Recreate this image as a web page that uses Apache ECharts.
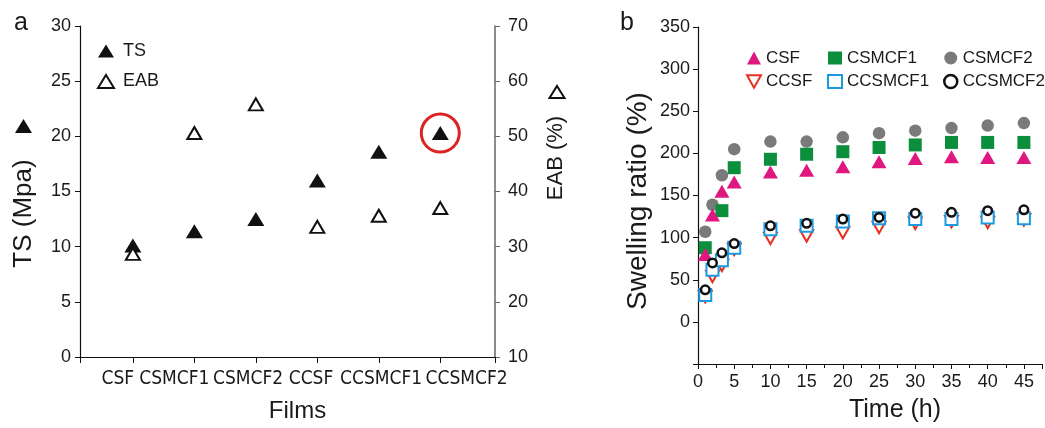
<!DOCTYPE html>
<html><head><meta charset="utf-8">
<script src="https://cdn.jsdelivr.net/npm/echarts@6/dist/echarts.min.js"></script>
<style>
html,body{margin:0;padding:0;background:#fff;width:1045px;height:428px;overflow:hidden}
#right{position:absolute;left:0;top:0;width:1045px;height:428px}
#left{position:absolute;left:0;top:0;width:600px;height:428px}
</style></head><body>
<div id="right"></div>
<div id="left"></div>
<script>
// ---- Panel a data ----
const films = ['CSF', 'CSMCF1', 'CSMCF2', 'CCSF', 'CCSMCF1', 'CCSMCF2'];
const tsValues = [10.1, 11.4, 12.5, 16.0, 18.6, 20.3];
const eabValues = [28.7, 50.6, 55.8, 33.6, 35.6, 37.0];
// ---- Panel b data ----
const times = [1, 2, 3.3, 5, 10, 15, 20, 25, 30, 35, 40, 45];
const csf     = [80, 127, 155, 166, 178, 180, 184, 190, 194, 196, 195, 195];
const csmcf1  = [88, null, 132, 183, 193, 199, 202, 207, 210, 213, 213, 213];
const csmcf2  = [107, 139, 174, 205, 214, 214, 219, 224, 227, 230, 233, 236];
const ccsf    = [30, 54, 67, 86, 99, 102, 106, 112, 117, 119, 118, 121];
const ccsmcf1 = [32, 62, 73, 88, 110, 114, 119, 123, 122, 122, 124, 123];
const ccsmcf2 = [38, 70, 82, 93, 114, 117, 122, 124, 129, 130, 132, 133];
const yTicksA = [0, 30, 5];
const yTicksB = [10, 70, 10];

const FONT = "'Liberation Sans', Arial, sans-serif";
const NARROW = "'Liberation Sans Narrow', 'Arial Narrow', 'DejaVu Sans Condensed', sans-serif";
const INK = '#1a1a1a';

// ---------- Panel a ----------
const xMin = 0.14, xMax = 6.89;
const labelShift = [-15, -20, -7.7, -6.3, 2.3, 26.3];
const rich = {};
labelShift.forEach((d, i) => {
  rich['s' + i] = {fontFamily: NARROW, fontSize: 19, color: INK,
    padding: d < 0 ? [0, -2 * d, 0, 0] : [0, 0, 0, 2 * d]};
});
const pos = films.map((_, i) => i + 1);
const openTri = {color: '#fff', borderColor: '#111', borderWidth: 2};

const left = echarts.init(document.getElementById('left'), null, {renderer: 'canvas'});
left.setOption({
  animation: false,
  backgroundColor: 'transparent',
  title: [{text: 'a', left: 9, top: 6, padding: 5,
    textStyle: {fontFamily: FONT, fontSize: 25, fontWeight: 'normal', color: INK}}],
  grid: {left: 80, top: 26, width: 415, height: 335},
  legend: [
    {data: [{name: 'TS', itemStyle: {color: '#111'}}, {name: 'EAB', itemStyle: openTri}],
     orient: 'vertical', left: 97, top: 42, padding: 0, itemWidth: 16, itemHeight: 13, itemGap: 12.5,
     textStyle: {fontFamily: FONT, fontSize: 18, color: INK, padding: [0, 0, 0, 4]}},
    {data: [{name: 'TS', itemStyle: {color: '#111'}}], orient: 'vertical', left: 15, top: 119, padding: 0,
     itemWidth: 17, itemHeight: 14, formatter: () => '', textStyle: {fontSize: 1}},
    {data: [{name: 'EAB', itemStyle: openTri}], orient: 'vertical', left: 548.5, top: 85, padding: 0,
     itemWidth: 15, itemHeight: 12, formatter: () => '', textStyle: {fontSize: 1}}
  ],
  xAxis: {
    type: 'value', min: xMin, max: xMax,
    axisLine: {onZero: false, lineStyle: {color: '#111', width: 1.2}},
    axisTick: {customValues: [xMin].concat(pos, [xMax]), length: 6, lineStyle: {color: '#111'}},
    axisLabel: {customValues: pos, margin: 13, rich: rich,
      formatter: v => { const i = Math.round(v) - 1; return '{s' + i + '|' + films[i] + '}'; }},
    splitLine: {show: false},
    name: 'Films', nameLocation: 'middle', nameGap: 42,
    nameTextStyle: {fontFamily: FONT, fontSize: 24, color: INK, padding: [0, 0, 0, 20]}
  },
  yAxis: [
    {type: 'value', position: 'left', min: yTicksA[0], max: yTicksA[1], interval: yTicksA[2],
     axisLine: {show: true, lineStyle: {color: '#111', width: 1.2}},
     axisTick: {show: true, length: 5, lineStyle: {color: '#111'}},
     axisLabel: {fontFamily: FONT, fontSize: 18, color: INK, margin: 9},
     splitLine: {show: false},
     name: 'TS (Mpa)', nameLocation: 'middle', nameRotate: 90, nameGap: 43,
     nameTextStyle: {fontFamily: FONT, fontSize: 26, color: INK, padding: [0, 44, 0, 0]}},
    {type: 'value', position: 'right', min: yTicksB[0], max: yTicksB[1], interval: yTicksB[2],
     axisLine: {show: true, lineStyle: {color: '#666', width: 1.5}},
     axisTick: {show: true, length: 5, lineStyle: {color: '#666'}},
     axisLabel: {fontFamily: FONT, fontSize: 18, color: INK, margin: 13},
     splitLine: {show: false},
     name: 'EAB (%)', nameLocation: 'middle', nameRotate: 90, nameGap: 50,
     nameTextStyle: {fontFamily: FONT, fontSize: 22, color: INK, padding: [0, 0, 0, 67]}}
  ],
  series: [
    {name: 'highlight', type: 'scatter', yAxisIndex: 0, silent: true, z: 1,
     data: [[pos[5], tsValues[5]]], symbol: 'circle', symbolSize: 38,
     itemStyle: {color: 'rgba(0,0,0,0)', borderColor: '#DC2222', borderWidth: 3, opacity: 1}},
    {name: 'TS', type: 'scatter', yAxisIndex: 0, z: 3,
     data: pos.map((p, i) => [p, tsValues[i]]), symbol: 'triangle', symbolSize: [17, 14],
     itemStyle: {color: '#111', opacity: 1}},
    {name: 'EAB', type: 'scatter', yAxisIndex: 1, z: 4,
     data: pos.map((p, i) => [p, eabValues[i]]), symbol: 'triangle', symbolSize: [14, 12],
     itemStyle: Object.assign({opacity: 1}, openTri)}
  ]
});

// ---------- Panel b ----------
const DOWN_TRI = 'path://M0,0L10,0L5,9Z';
const styles = {
  CSF:     {symbol: 'triangle', size: [15, 13], item: {color: '#E0177F'}},
  CSMCF1:  {symbol: 'rect', size: 13, item: {color: '#0C8F3D'}},
  CSMCF2:  {symbol: 'circle', size: 12.5, item: {color: '#7A7A7A'}},
  CCSF:    {symbol: DOWN_TRI, size: [13, 11.5], item: {color: '#fff', borderColor: '#E5311F', borderWidth: 2}},
  CCSMCF1: {symbol: 'rect', size: 12, item: {color: '#fff', borderColor: '#1C9AE0', borderWidth: 2}},
  CCSMCF2: {symbol: 'circle', size: 8.5, item: {color: '#fff', borderColor: '#111', borderWidth: 2.5}}
};
const seriesData = {CSF: csf, CSMCF1: csmcf1, CSMCF2: csmcf2, CCSF: ccsf, CCSMCF1: ccsmcf1, CCSMCF2: ccsmcf2};
const drawOrder = ['CSMCF2', 'CSMCF1', 'CSF', 'CCSF', 'CCSMCF1', 'CCSMCF2'];
const legendItem = n => ({name: n, icon: styles[n].symbol, itemStyle: styles[n].item});
const legendBase = {orient: 'vertical', top: 49.5, padding: 0, itemWidth: 14, itemHeight: 13, itemGap: 6.5,
  textStyle: {fontFamily: FONT, fontSize: 17, color: INK}};

const right = echarts.init(document.getElementById('right'), null, {renderer: 'canvas'});
right.setOption({
  animation: false,
  backgroundColor: '#fff',
  title: [{text: 'b', left: 615, top: 6, padding: 5,
    textStyle: {fontFamily: FONT, fontSize: 25, fontWeight: 'normal', color: INK}}],
  grid: {left: 698, top: 27, right: 0, height: 343},
  legend: [
    Object.assign({}, legendBase, {left: 746, data: ['CSF', 'CCSF'].map(legendItem)}),
    Object.assign({}, legendBase, {left: 827, data: ['CSMCF1', 'CCSMCF1'].map(legendItem)}),
    Object.assign({}, legendBase, {left: 943, data: ['CSMCF2', 'CCSMCF2'].map(legendItem)})
  ],
  xAxis: {
    type: 'value', min: 0, max: 47.5, interval: 5,
    axisLine: {onZero: false, lineStyle: {color: '#111', width: 1.2}},
    axisTick: {length: 5, lineStyle: {color: '#111'}},
    minorTick: {show: true, splitNumber: 2, length: 4, lineStyle: {color: '#111'}},
    axisLabel: {fontFamily: FONT, fontSize: 18, color: INK, margin: 9,
      formatter: v => (Math.abs(v % 5) < 1e-6 ? String(v) : '')},
    splitLine: {show: false},
    name: 'Time (h)', nameLocation: 'middle', nameGap: 34,
    nameTextStyle: {fontFamily: FONT, fontSize: 25, color: INK, padding: [0, 0, 0, 50]}
  },
  yAxis: {
    type: 'value', min: -50, max: 350, interval: 50,
    axisLine: {show: true, onZero: false, lineStyle: {color: '#111', width: 1.2}},
    axisTick: {show: true, length: 5, lineStyle: {color: '#111'}},
    axisLabel: {fontFamily: FONT, fontSize: 18, color: INK, margin: 8,
      formatter: v => (v < 0 ? '' : String(v))},
    splitLine: {show: false},
    name: 'Swelling ratio (%)', nameLocation: 'middle', nameRotate: 90, nameGap: 46,
    nameTextStyle: {fontFamily: FONT, fontSize: 28, color: INK, padding: [0, 11, 0, 0]}
  },
  series: drawOrder.map((n, k) => ({
    name: n, type: 'scatter', z: 2 + k,
    symbol: styles[n].symbol, symbolSize: styles[n].size,
    itemStyle: Object.assign({opacity: 1}, styles[n].item),
    data: times.map((t, i) => [t, seriesData[n][i]]).filter(d => d[1] != null)
  }))
});
</script>
</body></html>
